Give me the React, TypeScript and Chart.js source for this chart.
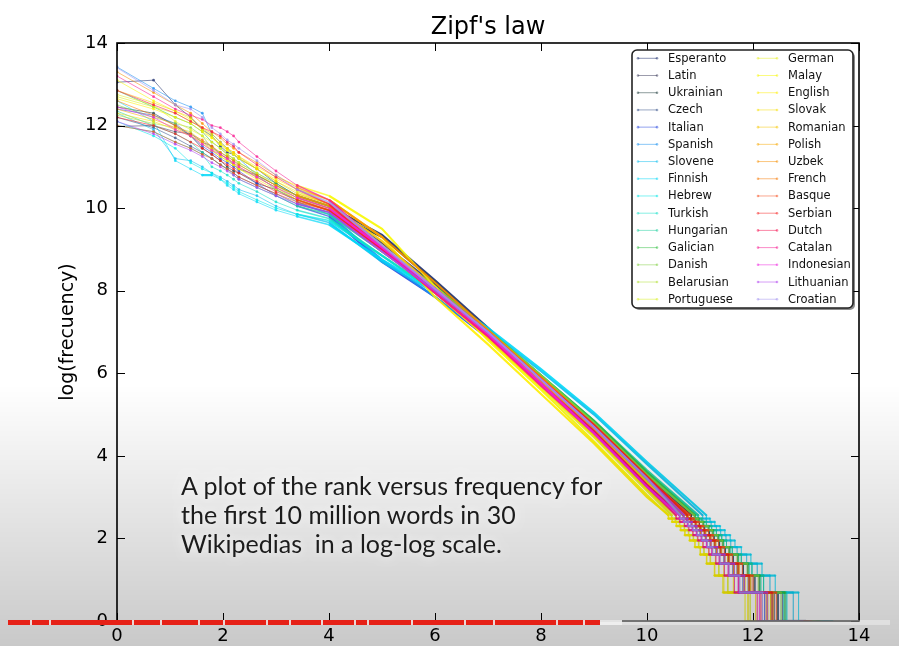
import React, { useEffect, useRef } from "react";
import { Chart, registerables } from "chart.js";
Chart.register(...registerables);

const LANGUAGES = ["Esperanto", "Latin", "Ukrainian", "Czech", "Italian", "Spanish", "Slovene", "Finnish", "Hebrew", "Turkish", "Hungarian", "Galician", "Danish", "Belarusian", "Portuguese", "German", "Malay", "English", "Slovak", "Romanian", "Polish", "Uzbek", "French", "Basque", "Serbian", "Dutch", "Catalan", "Indonesian", "Lithuanian", "Croatian"];

const COLORS = ["#1c2c6c", "#3a3a5a", "#1e3c3c", "#34508a", "#2848e0", "#1890f0", "#10c0f0", "#00d8f8", "#00e8e8", "#10e0c8", "#20d0a0", "#30c040", "#80d040", "#b0e030", "#d8f020", "#e8f020", "#f8f800", "#fff000", "#f8e000", "#f8c800", "#f8a800", "#f89000", "#f87800", "#f85020", "#f82020", "#f81050", "#f81890", "#f020e0", "#b040f0", "#a090f0"];

// log(rank) of the sampled points on the smooth part of every curve
const LOG_RANK = [0, 0.69, 1.10, 1.39, 1.61, 1.79, 1.95, 2.08, 2.20, 2.30, 2.64, 3.00, 3.40, 4.00, 5.00, 6.00, 7.00, 8.00, 9.00, 10.00];
// log(frequency) of the staircase rows at the tail (frequency 13 .. 1)
const STEP_LOG_FREQ = [2.56, 2.48, 2.40, 2.30, 2.20, 2.08, 1.95, 1.79, 1.61, 1.39, 1.10, 0.69, 0];

const X_TICKS = [0, 2, 4, 6, 8, 10, 12, 14];
const Y_TICKS = [0, 2, 4, 6, 8, 10, 12, 14];

// log(frequency) per language at LOG_RANK
const ESPERANTO_Y = [13.05, 13.1, 12.5, 12.2, 11.9, 11.75, 11.5, 11.35, 11.3, 11.2, 10.95, 10.6, 10.3, 10.05, 9.35, 8.25, 7.1, 5.9, 4.8, 3.5];
const LATIN_Y = [11.98, 12.0, 11.85, 11.8, 11.6, 11.5, 11.3, 11.2, 11.05, 10.95, 10.8, 10.55, 10.3, 10.05, 9.15, 8.15, 7.05, 5.85, 4.7, 3.4];
const UKRAINIAN_Y = [12.45, 12.3, 12.0, 11.75, 11.45, 11.3, 11.15, 11.0, 10.9, 10.85, 10.6, 10.45, 10.2, 9.95, 9.3, 8.2, 7.05, 5.9, 4.75, 3.45];
const CZECH_Y = [12.2, 11.95, 11.7, 11.5, 11.35, 11.2, 11.05, 10.95, 10.85, 10.75, 10.55, 10.35, 10.1, 9.9, 8.95, 8.05, 7.0, 5.9, 4.8, 3.5];
const ITALIAN_Y = [12.4, 12.25, 12.05, 11.75, 11.5, 11.35, 11.2, 11.1, 11.0, 10.9, 10.6, 10.3, 10.05, 9.8, 8.7, 7.85, 6.85, 5.75, 4.6, 3.3];
const SPANISH_Y = [13.42, 12.9, 12.6, 12.45, 12.3, 11.8, 11.6, 11.45, 11.3, 11.2, 10.8, 10.45, 10.15, 9.85, 8.75, 7.85, 6.9, 5.8, 4.65, 3.4];
const SLOVENE_Y = [12.3, 11.9, 11.2, 11.15, 11.0, 10.85, 10.75, 10.65, 10.55, 10.45, 10.3, 10.05, 9.85, 9.65, 8.7, 7.95, 7.05, 6.05, 5.0, 3.8];
const FINNISH_Y = [12.6, 12.1, 11.15, 10.95, 10.8, 10.8, 10.7, 10.55, 10.45, 10.35, 10.15, 9.95, 9.8, 9.6, 8.75, 8.0, 7.1, 6.1, 5.05, 3.85];
const HEBREW_Y = [12.1, 11.75, 11.45, 11.1, 10.95, 10.85, 10.7, 10.6, 10.5, 10.4, 10.2, 10.0, 9.85, 9.7, 8.85, 7.95, 6.95, 5.9, 4.8, 3.6];
const TURKISH_Y = [12.0, 11.85, 11.6, 11.45, 11.3, 11.0, 10.9, 10.8, 10.7, 10.6, 10.4, 10.15, 9.95, 9.75, 8.85, 8.0, 7.0, 5.9, 4.8, 3.55];
const HUNGARIAN_Y = [12.35, 12.0, 11.8, 11.6, 11.35, 11.2, 11.05, 10.95, 10.8, 10.7, 10.5, 10.3, 10.05, 9.85, 8.95, 8.05, 7.05, 5.95, 4.85, 3.65];
const GALICIAN_Y = [12.85, 12.45, 12.2, 12.05, 11.85, 11.6, 11.45, 11.3, 11.2, 11.1, 10.85, 10.6, 10.3, 10.05, 9.05, 8.1, 7.05, 5.95, 4.85, 3.6];
const DANISH_Y = [12.5, 12.2, 12.05, 11.95, 11.75, 11.45, 11.35, 11.25, 11.15, 11.05, 10.8, 10.55, 10.25, 10.0, 9.0, 8.1, 7.05, 5.95, 4.8, 3.55];
const BELARUSIAN_Y = [12.25, 12.05, 11.95, 11.85, 11.6, 11.4, 11.25, 11.15, 11.05, 10.95, 10.75, 10.5, 10.2, 9.95, 8.95, 8.0, 6.95, 5.85, 4.7, 3.4];
const PORTUGUESE_Y = [12.7, 12.45, 12.3, 12.1, 11.95, 11.75, 11.55, 11.4, 11.3, 11.2, 10.95, 10.65, 10.4, 10.1, 9.1, 7.95, 6.85, 5.7, 4.5, 3.2];
const GERMAN_Y = [12.75, 12.5, 12.1, 11.9, 11.75, 11.6, 11.45, 11.3, 11.2, 11.1, 10.85, 10.55, 10.3, 10.05, 9.05, 7.95, 6.85, 5.65, 4.45, 3.15];
const MALAY_Y = [13.1, 12.6, 12.35, 12.15, 11.9, 11.7, 11.55, 11.45, 11.35, 11.25, 11.0, 10.75, 10.55, 10.3, 9.5, 8.1, 6.8, 5.6, 4.35, 3.05];
const ENGLISH_Y = [12.65, 12.4, 12.2, 12.05, 11.85, 11.7, 11.55, 11.4, 11.3, 11.2, 10.95, 10.7, 10.45, 10.2, 9.3, 7.85, 6.7, 5.5, 4.3, 3.0];
const SLOVAK_Y = [12.3, 12.1, 11.9, 11.75, 11.55, 11.4, 11.25, 11.15, 11.05, 10.95, 10.7, 10.45, 10.2, 9.95, 9.0, 7.95, 6.85, 5.7, 4.5, 3.2];
const ROMANIAN_Y = [12.85, 12.55, 12.35, 12.2, 11.95, 11.8, 11.6, 11.45, 11.35, 11.25, 10.95, 10.65, 10.35, 10.1, 9.2, 8.05, 6.95, 5.8, 4.65, 3.35];
const POLISH_Y = [12.4, 12.15, 11.95, 11.75, 11.6, 11.45, 11.3, 11.2, 11.1, 11.0, 10.75, 10.5, 10.25, 10.0, 9.05, 8.05, 7.0, 5.85, 4.7, 3.45];
const UZBEK_Y = [13.3, 12.8, 12.5, 12.3, 12.05, 11.85, 11.7, 11.55, 11.45, 11.35, 11.1, 10.8, 10.5, 10.2, 9.3, 8.2, 7.05, 5.9, 4.75, 3.5];
const FRENCH_Y = [12.6, 12.25, 12.0, 11.8, 11.65, 11.5, 11.35, 11.25, 11.15, 11.05, 10.8, 10.55, 10.3, 10.05, 9.05, 8.05, 7.0, 5.9, 4.75, 3.5];
const BASQUE_Y = [12.0, 11.85, 11.6, 11.45, 11.3, 11.2, 11.05, 10.95, 10.85, 10.75, 10.55, 10.35, 10.15, 9.95, 9.0, 8.05, 7.0, 5.85, 4.7, 3.45];
const SERBIAN_Y = [12.2, 12.0, 11.8, 11.6, 11.45, 11.3, 11.15, 11.05, 10.95, 10.85, 10.65, 10.4, 10.2, 9.95, 9.0, 8.05, 7.0, 5.85, 4.75, 3.5];
const DUTCH_Y = [12.85, 12.5, 12.3, 12.1, 11.95, 11.85, 11.75, 11.6, 11.5, 11.35, 11.05, 10.75, 10.45, 10.1, 9.0, 7.95, 6.9, 5.75, 4.6, 3.3];
const CATALAN_Y = [13.2, 12.7, 12.4, 12.25, 12.15, 12.0, 11.95, 11.85, 11.75, 11.6, 11.25, 10.9, 10.55, 10.2, 9.05, 7.95, 6.9, 5.7, 4.55, 3.25];
const INDONESIAN_Y = [12.45, 12.2, 11.9, 11.75, 11.55, 11.4, 11.3, 11.2, 11.1, 11.0, 10.75, 10.5, 10.25, 10.0, 9.05, 8.05, 6.95, 5.75, 4.55, 3.25];
const LITHUANIAN_Y = [12.1, 11.8, 11.55, 11.4, 11.25, 11.1, 11.0, 10.9, 10.8, 10.7, 10.5, 10.3, 10.1, 9.9, 8.95, 8.0, 7.0, 5.85, 4.7, 3.45];
const CROATIAN_Y = [13.4, 12.85, 12.5, 12.4, 12.2, 11.95, 11.8, 11.65, 11.55, 11.45, 11.15, 10.8, 10.45, 10.15, 9.1, 8.05, 7.0, 5.85, 4.7, 3.45];

// log(rank) where each staircase row (frequency 13 .. 1) ends
const ESPERANTO_STEPS = [10.84, 10.91, 10.99, 11.09, 11.18, 11.27, 11.37, 11.48, 11.63, 11.82, 12.04, 12.48, 13.15];
const LATIN_STEPS = [10.75, 10.82, 10.91, 10.99, 11.08, 11.18, 11.27, 11.38, 11.53, 11.70, 11.91, 12.40, 13.00];
const UKRAINIAN_STEPS = [10.83, 10.90, 10.99, 11.08, 11.17, 11.26, 11.36, 11.47, 11.62, 11.81, 12.02, 12.46, 13.12];
const CZECH_STEPS = [10.90, 10.97, 11.06, 11.16, 11.24, 11.34, 11.43, 11.55, 11.71, 11.90, 12.12, 12.56, 13.22];
const ITALIAN_STEPS = [10.68, 10.75, 10.83, 10.92, 11.00, 11.10, 11.19, 11.30, 11.45, 11.62, 11.81, 12.22, 12.90];
const SPANISH_STEPS = [10.76, 10.83, 10.92, 11.01, 11.09, 11.19, 11.28, 11.39, 11.54, 11.72, 11.93, 12.36, 13.03];
const SLOVENE_STEPS = [11.05, 11.12, 11.21, 11.31, 11.39, 11.49, 11.58, 11.70, 11.88, 12.08, 12.32, 12.76, 13.41];
const FINNISH_STEPS = [11.12, 11.19, 11.28, 11.38, 11.47, 11.57, 11.66, 11.78, 11.96, 12.17, 12.42, 12.86, 13.50];
const HEBREW_STEPS = [10.95, 11.03, 11.12, 11.22, 11.31, 11.41, 11.50, 11.61, 11.78, 11.98, 12.20, 12.64, 13.30];
const TURKISH_STEPS = [10.90, 10.98, 11.07, 11.17, 11.26, 11.36, 11.45, 11.57, 11.73, 11.93, 12.15, 12.58, 13.24];
const HUNGARIAN_STEPS = [10.97, 11.04, 11.12, 11.22, 11.31, 11.41, 11.50, 11.61, 11.78, 11.98, 12.20, 12.62, 13.28];
const GALICIAN_STEPS = [10.91, 10.98, 11.07, 11.17, 11.25, 11.35, 11.44, 11.56, 11.72, 11.91, 12.13, 12.60, 13.25];
const DANISH_STEPS = [10.89, 10.96, 11.05, 11.15, 11.23, 11.33, 11.42, 11.54, 11.70, 11.89, 12.10, 12.53, 13.18];
const BELARUSIAN_STEPS = [10.77, 10.84, 10.93, 11.02, 11.10, 11.20, 11.29, 11.40, 11.55, 11.73, 11.95, 12.33, 13.05];
const PORTUGUESE_STEPS = [10.47, 10.54, 10.62, 10.71, 10.79, 10.88, 10.98, 11.08, 11.20, 11.36, 11.53, 11.95, 12.65];
const GERMAN_STEPS = [10.46, 10.53, 10.61, 10.70, 10.78, 10.87, 10.97, 11.07, 11.19, 11.35, 11.52, 11.92, 12.62];
const MALAY_STEPS = [10.40, 10.47, 10.55, 10.63, 10.71, 10.80, 10.90, 11.00, 11.12, 11.27, 11.43, 11.85, 12.55];
const ENGLISH_STEPS = [10.41, 10.48, 10.56, 10.64, 10.72, 10.81, 10.91, 11.01, 11.13, 11.28, 11.45, 11.90, 12.60];
const SLOVAK_STEPS = [10.54, 10.61, 10.70, 10.78, 10.86, 10.95, 11.05, 11.16, 11.29, 11.45, 11.63, 12.05, 12.74];
const ROMANIAN_STEPS = [10.70, 10.77, 10.85, 10.94, 11.02, 11.12, 11.21, 11.32, 11.47, 11.64, 11.85, 12.28, 12.95];
const POLISH_STEPS = [10.75, 10.82, 10.91, 11.00, 11.08, 11.18, 11.27, 11.38, 11.52, 11.71, 11.92, 12.34, 13.00];
const UZBEK_STEPS = [10.78, 10.85, 10.94, 11.03, 11.11, 11.21, 11.30, 11.41, 11.56, 11.74, 11.96, 12.38, 13.06];
const FRENCH_STEPS = [10.69, 10.76, 10.84, 10.93, 11.01, 11.11, 11.20, 11.31, 11.46, 11.63, 11.83, 12.25, 12.93];
const BASQUE_STEPS = [10.82, 10.89, 10.98, 11.07, 11.16, 11.25, 11.35, 11.46, 11.61, 11.80, 12.00, 12.44, 13.10];
const SERBIAN_STEPS = [10.76, 10.83, 10.92, 11.01, 11.09, 11.19, 11.28, 11.39, 11.54, 11.72, 11.93, 12.36, 13.03];
const DUTCH_STEPS = [10.62, 10.69, 10.77, 10.86, 10.94, 11.03, 11.13, 11.23, 11.37, 11.54, 11.73, 12.15, 12.84];
const CATALAN_STEPS = [10.55, 10.62, 10.71, 10.79, 10.87, 10.96, 11.06, 11.17, 11.30, 11.46, 11.65, 12.08, 12.76];
const INDONESIAN_STEPS = [10.61, 10.68, 10.76, 10.85, 10.93, 11.02, 11.12, 11.22, 11.36, 11.53, 11.72, 12.12, 12.82];
const LITHUANIAN_STEPS = [10.70, 10.77, 10.85, 10.94, 11.03, 11.12, 11.21, 11.33, 11.47, 11.65, 11.84, 12.27, 12.94];
const CROATIAN_STEPS = [10.63, 10.70, 10.78, 10.87, 10.95, 11.04, 11.14, 11.24, 11.38, 11.55, 11.75, 12.18, 12.86];

const MAIN_Y = [ESPERANTO_Y, LATIN_Y, UKRAINIAN_Y, CZECH_Y, ITALIAN_Y, SPANISH_Y, SLOVENE_Y, FINNISH_Y, HEBREW_Y, TURKISH_Y, HUNGARIAN_Y, GALICIAN_Y, DANISH_Y, BELARUSIAN_Y, PORTUGUESE_Y, GERMAN_Y, MALAY_Y, ENGLISH_Y, SLOVAK_Y, ROMANIAN_Y, POLISH_Y, UZBEK_Y, FRENCH_Y, BASQUE_Y, SERBIAN_Y, DUTCH_Y, CATALAN_Y, INDONESIAN_Y, LITHUANIAN_Y, CROATIAN_Y];
const STEPS = [ESPERANTO_STEPS, LATIN_STEPS, UKRAINIAN_STEPS, CZECH_STEPS, ITALIAN_STEPS, SPANISH_STEPS, SLOVENE_STEPS, FINNISH_STEPS, HEBREW_STEPS, TURKISH_STEPS, HUNGARIAN_STEPS, GALICIAN_STEPS, DANISH_STEPS, BELARUSIAN_STEPS, PORTUGUESE_STEPS, GERMAN_STEPS, MALAY_STEPS, ENGLISH_STEPS, SLOVAK_STEPS, ROMANIAN_STEPS, POLISH_STEPS, UZBEK_STEPS, FRENCH_STEPS, BASQUE_STEPS, SERBIAN_STEPS, DUTCH_STEPS, CATALAN_STEPS, INDONESIAN_STEPS, LITHUANIAN_STEPS, CROATIAN_STEPS];

const BAR_GAPS = [30, 49, 132, 160, 198, 223, 266, 289, 321, 354, 367, 411, 464, 493, 556, 583];

function rgba(hex: string, a: number) {
  const n = parseInt(hex.slice(1), 16);
  return `rgba(${(n >> 16) & 255},${(n >> 8) & 255},${n & 255},${a})`;
}

function buildPoints(mainY: number[], steps: number[]) {
  const pts = LOG_RANK.map((x, i) => ({ x, y: mainY[i] }));
  pts.push({ x: steps[0], y: STEP_LOG_FREQ[0] });
  for (let j = 1; j < steps.length; j++) {
    pts.push({ x: steps[j - 1], y: STEP_LOG_FREQ[j] });
    pts.push({ x: steps[j], y: STEP_LOG_FREQ[j] });
  }
  return pts;
}

function segStyle(c: any) {
  const x0 = c.p0.parsed.x, x1 = c.p1.parsed.x, y0 = c.p0.parsed.y, y1 = c.p1.parsed.y;
  if (x0 === x1) return { w: 0.8, a: 0.45 };
  if (y0 === y1) return { w: 2.2, a: 0.85 };
  if (x1 <= 3.41) return { w: 1, a: 0.55 };
  if (x1 <= 4.01) return { w: 1.5, a: 0.7 };
  return { w: 2.1, a: 0.9 };
}

const framePlugin = {
  id: "frame",
  afterDatasetsDraw(chart: any) {
    const { ctx, chartArea: a, scales } = chart;
    ctx.save();
    ctx.strokeStyle = "#000";
    ctx.lineWidth = 1;
    X_TICKS.forEach((v) => {
      const px = Math.round(scales.x.getPixelForValue(v)) + 0.5;
      ctx.beginPath();
      ctx.moveTo(px, a.bottom); ctx.lineTo(px, a.bottom - 8);
      ctx.moveTo(px, a.top); ctx.lineTo(px, a.top + 8);
      ctx.stroke();
    });
    Y_TICKS.forEach((v) => {
      const py = Math.round(scales.y.getPixelForValue(v)) + 0.5;
      ctx.beginPath();
      ctx.moveTo(a.left, py); ctx.lineTo(a.left + 8, py);
      ctx.moveTo(a.right, py); ctx.lineTo(a.right - 8, py);
      ctx.stroke();
    });
    ctx.lineWidth = 1.6;
    ctx.strokeRect(a.left, a.top, a.right - a.left, a.bottom - a.top);

    // title
    ctx.fillStyle = "#000";
    ctx.font = '24px "DejaVu Sans"';
    ctx.textAlign = "center";
    ctx.textBaseline = "alphabetic";
    ctx.fillText("Zipf's law", (a.left + a.right) / 2, a.top - 9);

    // y axis title
    ctx.save();
    ctx.translate(68, (a.top + a.bottom) / 2);
    ctx.rotate(-Math.PI / 2);
    ctx.font = '19px "DejaVu Sans"';
    ctx.textBaseline = "middle";
    ctx.fillText("log(frecuency)", 0, 0);
    ctx.restore();

    // legend
    const L = a.right - 227, T = a.top + 7, W = 221, H = 258;
    ctx.fillStyle = "rgba(0,0,0,0.45)";
    ctx.beginPath();
    (ctx as any).roundRect(L + 2, T + 2, W, H, 5);
    ctx.fill();
    ctx.fillStyle = "#fff";
    ctx.strokeStyle = "#222";
    ctx.lineWidth = 1.6;
    ctx.beginPath();
    (ctx as any).roundRect(L, T, W, H, 5);
    ctx.fill();
    ctx.stroke();
    ctx.font = '11.5px "DejaVu Sans"';
    ctx.textAlign = "left";
    ctx.textBaseline = "middle";
    LANGUAGES.forEach((name, i) => {
      const col = i < 15 ? 0 : 1;
      const row = i % 15;
      const y = T + 8.3 + row * 17.21;
      const lx = L + (col ? 126 : 6);
      const col1 = rgba(COLORS[i], 0.5);
      ctx.strokeStyle = col1;
      ctx.lineWidth = 1;
      ctx.beginPath();
      ctx.moveTo(lx, y); ctx.lineTo(lx + 19, y);
      ctx.stroke();
      ctx.fillStyle = col1;
      ctx.beginPath(); ctx.arc(lx, y, 1.3, 0, Math.PI * 2); ctx.fill();
      ctx.beginPath(); ctx.arc(lx + 19, y, 1.3, 0, Math.PI * 2); ctx.fill();
      ctx.fillStyle = "#111";
      ctx.fillText(name, L + (col ? 156 : 36), y + 0.5);
    });
    ctx.restore();
  },
};

export default function App() {
  const canvasRef = useRef<HTMLCanvasElement>(null);
  useEffect(() => {
    document.body.style.margin = "0";
    const datasets = LANGUAGES.map((name, i) => ({
      label: name,
      data: buildPoints(MAIN_Y[i], STEPS[i]),
      order: LANGUAGES.length - i,
      borderColor: rgba(COLORS[i], 0.8),
      backgroundColor: rgba(COLORS[i], 0.8),
      borderWidth: 1,
      tension: 0,
      pointRadius: (c: any) => (c.dataIndex <= 12 ? 1.4 : c.dataIndex >= 20 ? 1.1 : 0),
      pointBorderWidth: 0,
      pointBackgroundColor: rgba(COLORS[i], 0.75),
      pointHoverRadius: 0,
      segment: {
        borderWidth: (c: any) => segStyle(c).w,
        borderColor: (c: any) => rgba(COLORS[i], segStyle(c).a),
      },
    }));
    const chart = new Chart(canvasRef.current!, {
      type: "line",
      data: { datasets } as any,
      options: {
        animation: false,
        responsive: false,
        events: [],
        layout: { padding: { top: 43, right: 40, bottom: 0, left: 0 } },
        plugins: { legend: { display: false }, tooltip: { enabled: false }, title: { display: false } },
        scales: {
          x: {
            type: "linear",
            min: 0,
            max: 14,
            border: { display: false },
            grid: { display: false, drawTicks: false },
            afterBuildTicks: (s: any) => { s.ticks = X_TICKS.map((v) => ({ value: v })); },
            afterFit: (s: any) => { s.height = 25; },
            ticks: { color: "#000", padding: 5, font: { family: "DejaVu Sans", size: 18 }, maxRotation: 0, autoSkip: false },
          },
          y: {
            type: "linear",
            min: 0,
            max: 14,
            border: { display: false },
            grid: { display: false, drawTicks: false },
            afterBuildTicks: (s: any) => { s.ticks = Y_TICKS.map((v) => ({ value: v })); },
            afterFit: (s: any) => { s.width = 117; },
            ticks: { color: "#000", padding: 9, font: { family: "DejaVu Sans", size: 18 }, autoSkip: false },
          },
        },
      } as any,
      plugins: [framePlugin],
    });
    return () => chart.destroy();
  }, []);

  return (
    <div style={{ position: "absolute", left: 0, top: 0, width: 899, height: 646, background: "#fff", overflow: "hidden" }}>
      <canvas ref={canvasRef} width={899} height={646} style={{ position: "absolute", left: 0, top: 0 }} />
      <div style={{ position: "absolute", left: 0, top: 385, width: 899, height: 261, background: "linear-gradient(to bottom, rgba(0,0,0,0), rgba(0,0,0,0.21))", pointerEvents: "none" }} />
      <div style={{ position: "absolute", left: 181, top: 471, fontFamily: "Lato", fontSize: 25, lineHeight: "29px", color: "#1c1c1c", textShadow: "0 0 8px rgba(255,255,255,0.9)", whiteSpace: "nowrap" }}>
        A plot of the rank versus frequency for<br />the first 10 million words in 30<br />Wikipedias&nbsp; in a log-log scale.
      </div>
      <div style={{ position: "absolute", left: 8, top: 620, width: 882, height: 5, background: "rgba(255,255,255,0.35)" }}>
        <div style={{ position: "absolute", left: 0, top: 0, width: 614, height: 5, background: "rgba(240,240,240,0.9)" }} />
        <div style={{ position: "absolute", left: 0, top: 0, width: 592, height: 5, background: "#e62117" }} />
        {BAR_GAPS.map((g) => (
          <div key={g} style={{ position: "absolute", left: g - 8, top: 0, width: 2, height: 5, background: "rgba(235,235,235,0.9)" }} />
        ))}
      </div>
    </div>
  );
}
